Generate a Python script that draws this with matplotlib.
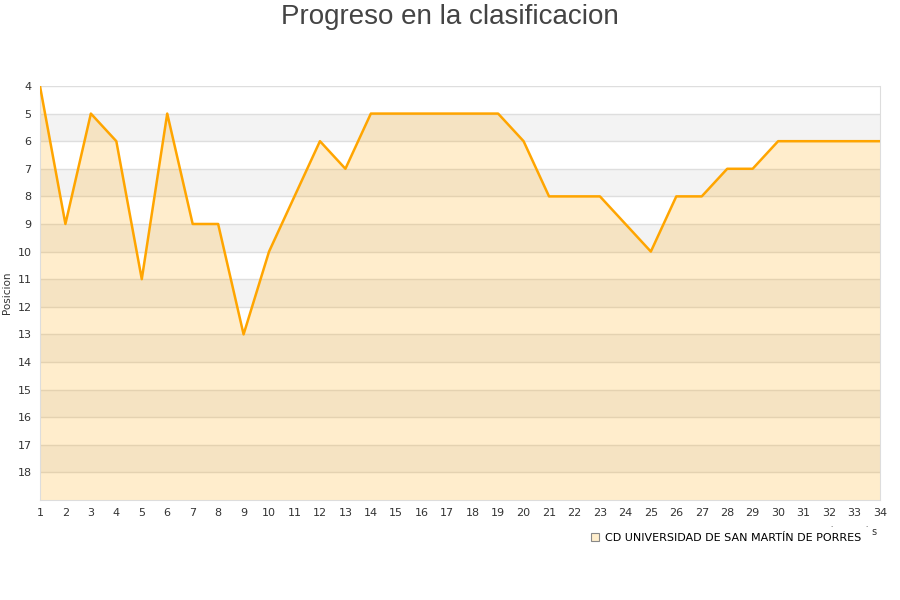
import matplotlib
matplotlib.use('Agg')
import matplotlib.pyplot as plt
from matplotlib.lines import Line2D

# datos de la clasificacion por jornada
jornadas = list(range(1, 35))
posicion = [4, 9, 5, 6, 11, 5, 9, 9, 13, 10, 8, 6, 7, 5, 5, 5, 5, 5, 5, 6,
            8, 8, 8, 9, 10, 8, 8, 7, 7, 6, 6, 6, 6, 6]
equipo = "CD UNIVERSIDAD DE SAN MARTÍN DE PORRES"
y_ticks = list(range(4, 19))

fig = plt.figure(figsize=(9, 6), dpi=100)
ax = fig.add_axes([0.0444, 0.1667, 0.9333, 0.69])

# bandas alternas del fondo
for y0 in range(5, 19, 2):
    ax.axhspan(y0, y0 + 1, color='#f3f3f3', zorder=0, lw=0)
for y in range(4, 19):
    ax.axhline(y, color='#dedede', lw=1, zorder=1)

ax.fill_between(jornadas, posicion, 19, color='orange', alpha=0.2, lw=0, zorder=2)
ax.plot(jornadas, posicion, color='orange', lw=1.8, zorder=3)

ax.set_xlim(1, 34)
ax.set_ylim(19, 4)
ax.set_xticks(jornadas)
ax.set_yticks(y_ticks)
ax.tick_params(length=0, labelsize=8, colors='#333333', pad=6)
for s in ax.spines.values():
    s.set_color('#dddddd')
ax.spines['top'].set_visible(False)

ax.set_ylabel('Posicion', fontsize=7.5, color='#333333', labelpad=4)
fig.text(0.5, 0.993, 'Progreso en la clasificacion', ha='center', va='top',
         fontsize=20, color='#444444', family='Liberation Sans')
fig.text(0.968, 0.108, 's', fontsize=7, color='#333333')
fig.text(0.922, 0.122, '.', fontsize=5, color='#333333')
fig.text(0.961, 0.122, '.', fontsize=5, color='#333333')

handle = Line2D([], [], marker='s', linestyle='none', markersize=6,
                markerfacecolor='#ffeecc', markeredgecolor='#888888', markeredgewidth=0.8)
fig.legend([handle], [equipo], loc='center', bbox_to_anchor=(0.806, 0.103),
           frameon=False, fontsize=8, handletextpad=0.4, handlelength=1)

fig.savefig('out.png', dpi=100)
